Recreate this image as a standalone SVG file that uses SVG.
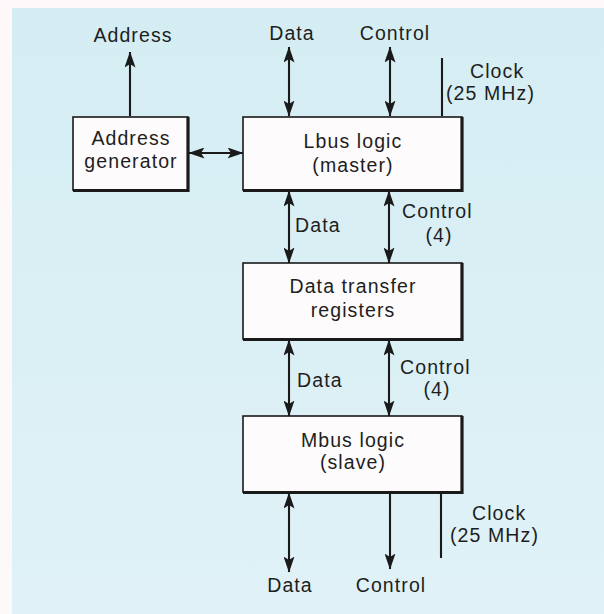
<svg xmlns="http://www.w3.org/2000/svg" width="604" height="614" viewBox="0 0 604 614">
  <defs>
    <linearGradient id="panel" x1="0" y1="0" x2="0" y2="1">
      <stop offset="0" stop-color="#d4edf3"/>
      <stop offset="1" stop-color="#e0f2f7"/>
    </linearGradient>
    <marker id="head" viewBox="0 0 16 11" markerUnits="userSpaceOnUse" markerWidth="16" markerHeight="11" refX="15.5" refY="5.5" orient="auto-start-reverse">
      <path d="M0,0 L16,5.5 L0,11 L3.5,5.5 Z" fill="#1a1a1a"/>
    </marker>
  </defs>
  <style>
    text { font-family: "Liberation Sans", Arial, sans-serif; font-size: 19.5px; letter-spacing: 1.1px; fill: #1e1e1e; }
    .c { text-anchor: middle; }
    .box { fill: #fdfbfb; stroke: #1a1a1a; stroke-width: 1.6; }
    .shadow { fill: none; stroke: #1a1a1a; stroke-width: 3.2; }
    .wire { fill: none; stroke: #1a1a1a; stroke-width: 2.1; }
    .both { marker-start: url(#head); marker-end: url(#head); }
    .one { marker-end: url(#head); }
  </style>

  <rect width="604" height="614" fill="#fdf8fa"/>
  <rect x="12" y="8" width="592" height="606" fill="url(#panel)"/>

  <g id="connectors">
    <!-- address output -->
    <line class="wire one" x1="130" y1="116" x2="130" y2="52"/>
    <!-- top data / control buses -->
    <line class="wire both" x1="289" y1="47" x2="289" y2="116"/>
    <line class="wire both" x1="390" y1="47" x2="390" y2="116"/>
    <!-- top clock input -->
    <line class="wire" x1="442" y1="58" x2="442" y2="116"/>
    <!-- address generator link -->
    <line class="wire both" x1="189" y1="153" x2="243" y2="153"/>
    <!-- Lbus to transfer registers -->
    <line class="wire both" x1="289" y1="191" x2="289" y2="263"/>
    <line class="wire both" x1="389" y1="191" x2="389" y2="263"/>
    <!-- transfer registers to Mbus -->
    <line class="wire both" x1="289" y1="340" x2="289" y2="416"/>
    <line class="wire both" x1="389" y1="340" x2="389" y2="416"/>
    <!-- bottom buses -->
    <line class="wire both" x1="289" y1="493" x2="289" y2="572"/>
    <line class="wire one" x1="390" y1="493" x2="390" y2="569"/>
    <!-- bottom clock input -->
    <line class="wire" x1="441" y1="493" x2="441" y2="558"/>

    <text class="c" x="133" y="42">Address</text>
    <text class="c" x="292" y="40">Data</text>
    <text class="c" x="395" y="40">Control</text>
    <text x="470" y="78">Clock</text>
    <text x="446" y="100">(25 MHz)</text>

    <text x="295" y="232">Data</text>
    <text x="402" y="218">Control</text>
    <text class="c" x="439" y="242">(4)</text>

    <text x="297" y="387">Data</text>
    <text x="400" y="374">Control</text>
    <text class="c" x="437" y="396">(4)</text>

    <text x="472" y="520">Clock</text>
    <text x="450" y="542">(25 MHz)</text>
    <text class="c" x="290" y="592">Data</text>
    <text class="c" x="391" y="592">Control</text>
  </g>

  <g id="address-generator">
    <rect class="box" x="73" y="117" width="115" height="73"/>
    <polyline class="shadow" points="188,117 188,190.5 73,190.5"/>
    <text class="c" x="131" y="145">Address</text>
    <text class="c" x="131" y="168">generator</text>
  </g>

  <g id="lbus-logic">
    <rect class="box" x="243" y="117" width="219" height="73"/>
    <polyline class="shadow" points="462,117 462,190.5 243,190.5"/>
    <text class="c" x="353" y="148">Lbus logic</text>
    <text class="c" x="353" y="172">(master)</text>
  </g>

  <g id="data-transfer-registers">
    <rect class="box" x="243" y="263" width="219" height="76"/>
    <polyline class="shadow" points="462,263 462,339.5 243,339.5"/>
    <text class="c" x="353" y="293">Data transfer</text>
    <text class="c" x="353" y="317">registers</text>
  </g>

  <g id="mbus-logic">
    <rect class="box" x="243" y="416" width="219" height="76"/>
    <polyline class="shadow" points="462,416 462,492.5 243,492.5"/>
    <text class="c" x="353" y="447">Mbus logic</text>
    <text class="c" x="353" y="469">(slave)</text>
  </g>
</svg>
